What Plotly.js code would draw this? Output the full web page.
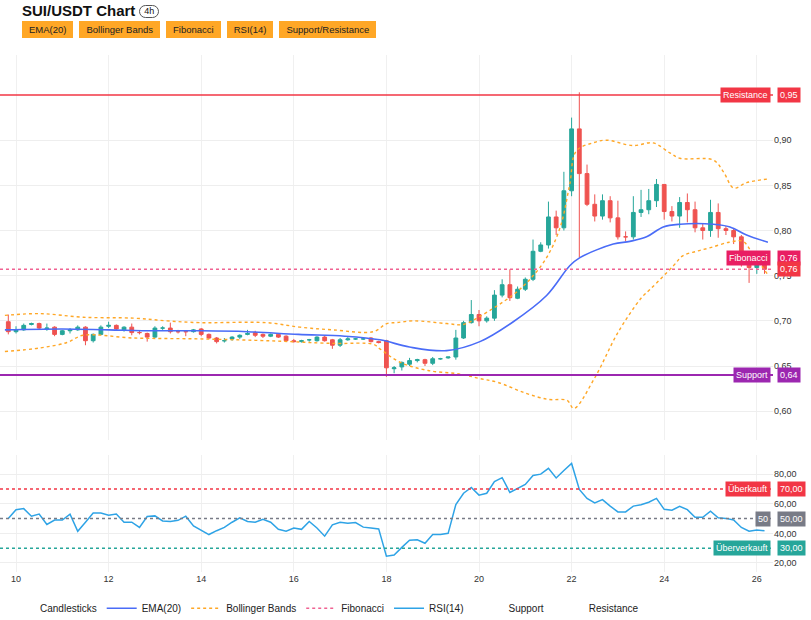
<!DOCTYPE html>
<html>
<head>
<meta charset="utf-8">
<script src="https://cdn.plot.ly/plotly-3.0.1.min.js"></script>
<style>
  body { margin: 0; background: #fff; font-family: "Liberation Sans", Arial, sans-serif; }
  #wrap { position: relative; width: 811px; height: 620px; }
  #chart { position: absolute; left: 0; top: 0; width: 811px; height: 620px; }
  #head { position: absolute; left: 22px; top: 2px; z-index: 5; }
  #title { font-size: 15px; font-weight: bold; color: #111; line-height: 17px; }
  .pill { display: inline-block; border: 1px solid #555; border-radius: 8px; font-size: 9px; line-height: 11px; padding: 0 4px; margin-left: 4px; vertical-align: 2px; font-weight: normal; }
  .btn { display: inline-block; background: #ffa726; color: #222; font-size: 9.5px; padding: 3px 7px; margin-right: 6px; margin-top: 1px; }
</style>
</head>
<body>
<div id="wrap">
  <div id="chart"></div>
  <div id="head">
    <div id="title">SUI/USDT Chart<span class="pill">4h</span></div>
    <div><span class="btn">EMA(20)</span><span class="btn">Bollinger Bands</span><span class="btn">Fibonacci</span><span class="btn">RSI(14)</span><span class="btn">Support/Resistance</span></div>
  </div>
</div>
<script>
// 4h candles, first one at Jan 9 20:00
var opens = [.699,.688,.690,.696,.697,.691,.693,.685,.689,.690,.693,.678,.685,.694,.695,.690,.693,.687,.686,.682,
  .692,.692,.688,.688,.688,.691,.685,.681,.678,.680,.682,.685,.687,.685,.683,.685,.683,.678,.677,.679,
  .678,.682,.679,.673,.679,.680,.680,.681,.677,.678,.647,.649,.652,.656,.657,.653,.658,.659,.660,.681,
  .698,.707,.700,.703,.7285,.740,.725,.735,.746,.777,.784,.815,.803,.844,.9125,.863,.829,.816,.833,.814,
  .793,.793,.820,.823,.833,.851,.821,.816,.831,.823,.803,.800,.820,.802,.800,.793,.768,.759,.762];
var highs = [.707,.694,.697,.698,.698,.697,.694,.690,.692,.695,.694,.686,.695,.699,.696,.694,.697,.689,.687,.694,
  .694,.698,.690,.689,.691,.692,.686,.682,.681,.683,.685,.690,.689,.686,.686,.686,.684,.680,.679,.680,
  .683,.684,.680,.681,.682,.681,.682,.682,.678,.679,.650,.655,.659,.658,.658,.660,.659,.660,.690,.700,
  .723,.712,.705,.734,.746,.757,.738,.748,.790,.787,.832,.822,.865,.925,.953,.873,.840,.840,.838,.833,
  .799,.838,.845,.846,.857,.851,.827,.837,.841,.832,.808,.834,.830,.805,.802,.795,.770,.765,.763];
var lows = [.685,.686,.689,.695,.690,.689,.683,.684,.686,.689,.673,.676,.684,.692,.689,.688,.684,.685,.677,.681,
  .690,.686,.686,.683,.687,.683,.680,.675,.676,.678,.680,.684,.682,.681,.682,.681,.677,.676,.676,.677,
  .677,.677,.669,.671,.678,.679,.679,.676,.675,.638,.642,.645,.650,.654,.650,.651,.657,.658,.657,.680,
  .697,.694,.698,.700,.726,.722,.724,.733,.744,.776,.780,.795,.800,.838,.770,.827,.810,.812,.809,.790,
  .788,.790,.815,.818,.826,.812,.810,.803,.809,.798,.790,.793,.792,.795,.785,.760,.742,.752,.752];
var closes = [.688,.690,.695,.697,.692,.692,.685,.689,.690,.693,.678,.685,.693,.695,.691,.693,.687,.687,.682,.692,
  .692,.688,.688,.688,.690,.685,.681,.677,.678,.682,.684,.686,.684,.683,.685,.682,.678,.677,.678,.679,
  .682,.678,.673,.679,.680,.680,.680,.677,.676,.648,.648,.654,.656,.657,.653,.658,.658,.660,.681,.698,
  .707,.700,.703,.7285,.740,.7256,.735,.746,.777,.784,.815,.803,.844,.9125,.863,.829,.816,.833,.814,.793,
  .793,.820,.823,.833,.851,.821,.816,.831,.823,.803,.800,.820,.802,.800,.793,.768,.759,.762,.757];
var rsi = [50,56,56.7,51.6,53,46,49,49,53,41.4,47.5,53.8,53.8,52.3,53,47.5,47.5,44,51.4,51.8,
  48.4,48,48.8,51.6,45,42.3,39.2,41.8,44,47.5,50.5,48,47.5,49.5,47.5,42.7,41.4,43.6,42.7,48,
  43.6,38.1,45.7,47.5,46.8,47.3,44.2,43.6,43,24.6,25.4,30.5,35.3,35.7,33.3,39.2,39.2,40,59.5,67.1,
  71,65.8,67.1,75,77.6,67.6,70.2,73,79.1,80,83.9,77.4,82.4,87.2,69.7,63.6,60.6,62.8,58.4,54.5,
  54.5,58.4,59.3,61,63.6,56.2,55.6,58.2,56,50.8,50.8,55,50.5,50.1,49,44,41.4,42.3,41.8];

// indicator lines read at sample days (day of January, fractional)
var emaDays = [9.76,11,12,13,14,15,16.1,17.1,17.86,18.5,19.3,20.02,20.74,21.46,21.96,22.18,22.9,23.26,23.62,23.98,24.34,25.06,25.42,25.78,26.24];
var emaVals = [.690,.691,.690,.689,.689,.688,.685,.683,.679,.671,.667,.677,.699,.728,.761,.770,.785,.788,.793,.804,.807,.807,.804,.795,.787];
var upDays = [9.76,10.52,11.45,12.53,13.26,13.97,15.41,16.13,16.85,17.72,18.01,18.22,18.58,19.3,19.66,20.02,20.74,21.1,21.46,21.75,21.96,22.1,22.46,22.75,23.33,23.76,24.12,24.34,25.06,25.28,25.5,25.78,26.24];
var upVals = [.706,.708,.704,.703,.700,.698,.698,.693,.690,.688,.697,.698,.700,.697,.696,.705,.729,.746,.770,.803,.851,.888,.897,.900,.894,.897,.886,.880,.878,.865,.847,.853,.857];
var loDays = [9.76,10.52,11.1,11.45,12.53,13.97,15.41,16.85,17.72,17.86,18.3,18.9,19.6,20.02,20.4,21.0,21.5,21.9,22.05,22.5,23.0,23.5,23.7,24.2,24.4,24.7,25.0,25.4,25.7,25.9,26.24];
var loVals = [.666,.670,.676,.684,.681,.680,.678,.675,.674,.669,.654,.645,.641,.636,.632,.620,.613,.612,.603,.637,.687,.725,.735,.761,.772,.777,.781,.787,.788,.775,.751];

var resistance = 0.95, support = 0.64, fib = 0.757;
var rsiLevels = [70, 50, 30];
var priceTicks = [0.60, 0.65, 0.70, 0.75, 0.80, 0.85, 0.90];
var rsiTicks = [20, 40, 60, 80];

function pad(n) { return (n < 10 ? '0' : '') + n; }
function dayToDate(d) {
  var ms = Date.UTC(2025, 0, 1) + (d - 1) * 86400000;
  var t = new Date(Math.round(ms / 60000) * 60000);
  return t.getUTCFullYear() + '-' + pad(t.getUTCMonth() + 1) + '-' + pad(t.getUTCDate()) + ' ' + pad(t.getUTCHours()) + ':' + pad(t.getUTCMinutes());
}

var times = [];
for (var i = 0; i < closes.length; i++) times.push(dayToDate(9 + 20 / 24 + i * 4 / 24));

var clear = { color: 'rgba(0,0,0,0)', width: 0 };
var candleKey = { type: 'scatter', mode: 'lines', name: 'Candlesticks', x: [null], y: [null], line: clear };
var candles = {
  type: 'candlestick', name: 'Candlesticks', showlegend: false, x: times,
  open: opens, high: highs, low: lows, close: closes,
  increasing: { line: { color: '#26a69a', width: 1 }, fillcolor: '#26a69a' },
  decreasing: { line: { color: '#ef5350', width: 1 }, fillcolor: '#ef5350' },
  whiskerwidth: 0, yaxis: 'y', hoverinfo: 'skip'
};
var ema = { type: 'scatter', mode: 'lines', name: 'EMA(20)', x: emaDays.map(dayToDate), y: emaVals,
  line: { color: '#4a6cf7', width: 1.6, shape: 'spline' } };
var upper = { type: 'scatter', mode: 'lines', name: 'Bollinger Bands', x: upDays.map(dayToDate), y: upVals,
  line: { color: '#ffa726', width: 1.4, dash: 'dot', shape: 'spline' } };
var lower = { type: 'scatter', mode: 'lines', name: 'Bollinger Lower', showlegend: false, x: loDays.map(dayToDate), y: loVals,
  line: { color: '#ffa726', width: 1.4, dash: 'dot', shape: 'spline' } };
var x0 = dayToDate(9.654), x1 = dayToDate(26.35);
var fibTr = { type: 'scatter', mode: 'lines', name: 'Fibonacci', x: [x0, x1], y: [fib, fib],
  line: { color: '#f06292', width: 1.5, dash: 'dot' } };
var rsiTr = { type: 'scatter', mode: 'lines', name: 'RSI(14)', x: times, y: rsi, yaxis: 'y2',
  line: { color: '#2ea3e6', width: 1.5 } };
var supTr = { type: 'scatter', mode: 'lines', name: 'Support', showlegend: false, x: [x0, x1], y: [support, support],
  line: { color: '#9c27b0', width: 2 } };
var resTr = { type: 'scatter', mode: 'lines', name: 'Resistance', showlegend: false, x: [x0, x1], y: [resistance, resistance],
  line: { color: '#f23645', width: 1.5 } };
var supKey = { type: 'scatter', mode: 'lines', name: 'Support', x: [null], y: [null], line: clear };
var resKey = { type: 'scatter', mode: 'lines', name: 'Resistance', x: [null], y: [null], line: clear };

var shapes = [];
var rsiColors = ['#f23645', '#787b86', '#26a69a'];
rsiLevels.forEach(function (v, k) {
  shapes.push({ type: 'line', xref: 'paper', x0: 0, x1: 1, yref: 'y2', y0: v, y1: v,
    line: { color: rsiColors[k], width: 1.5, dash: 'dot' } });
});

function tag(y, yref, text, bg, side) {
  return { xref: 'paper', x: 1, xanchor: side === 'l' ? 'right' : 'left', xshift: side === 'l' ? -2 : 4,
    yref: yref, y: y, text: text, showarrow: false, bgcolor: bg, borderpad: 2,
    font: { color: '#fff', size: 9, family: 'Liberation Sans, Arial' } };
}
var annotations = [
  tag(resistance, 'y', 'Resistance', '#f23645', 'l'), tag(resistance, 'y', '0,95', '#f23645', 'r'),
  tag(support, 'y', 'Support', '#9c27b0', 'l'), tag(support, 'y', '0,64', '#9c27b0', 'r'),
  tag(fib + 0.013, 'y', 'Fibonacci', '#e91e63', 'l'), tag(fib + 0.013, 'y', '0,76', '#e91e63', 'r'),
  tag(closes[closes.length - 1], 'y', '0,76', '#f23645', 'r'),
  tag(70, 'y2', 'Überkauft', '#f23645', 'l'), tag(70, 'y2', '70,00', '#f23645', 'r'),
  tag(50, 'y2', '50', '#787b86', 'l'), tag(50, 'y2', '50,00', '#787b86', 'r'),
  tag(30, 'y2', 'Überverkauft', '#26a69a', 'l'), tag(30, 'y2', '30,00', '#26a69a', 'r')
];

var layout = {
  width: 811, height: 620,
  margin: { l: 0, r: 38, t: 55, b: 48 },
  separators: ',.',
  font: { family: 'Liberation Sans, Arial', size: 9, color: '#333' },
  paper_bgcolor: '#fff', plot_bgcolor: '#fff',
  showlegend: true,
  legend: { orientation: 'h', x: 0, xanchor: 'left', yref: 'container', y: 0.019, yanchor: 'middle',
    font: { size: 10, color: '#222' } },
  xaxis: { type: 'date', range: [x0, x1], rangeslider: { visible: false },
    tick0: '2025-01-10', dtick: 2 * 86400000, tickformat: '%-d',
    showgrid: true, gridcolor: '#f0f0f0', zeroline: false, ticks: '', anchor: 'y2' },
  yaxis: { domain: [0.255, 1], range: [0.5679, 0.9943], side: 'right', tickvals: priceTicks,
    tickformat: '.2f', gridcolor: '#eeeeee', zeroline: false, showline: false },
  yaxis2: { domain: [0, 0.226], range: [13.9, 92.8], side: 'right', tickvals: rsiTicks,
    tickformat: '.2f', gridcolor: '#eeeeee', zeroline: false },
  shapes: shapes,
  annotations: annotations
};

Plotly.newPlot('chart', [candleKey, candles, ema, upper, lower, fibTr, rsiTr, supKey, resKey, supTr, resTr], layout, { displayModeBar: false, staticPlot: true });
</script>
</body>
</html>
